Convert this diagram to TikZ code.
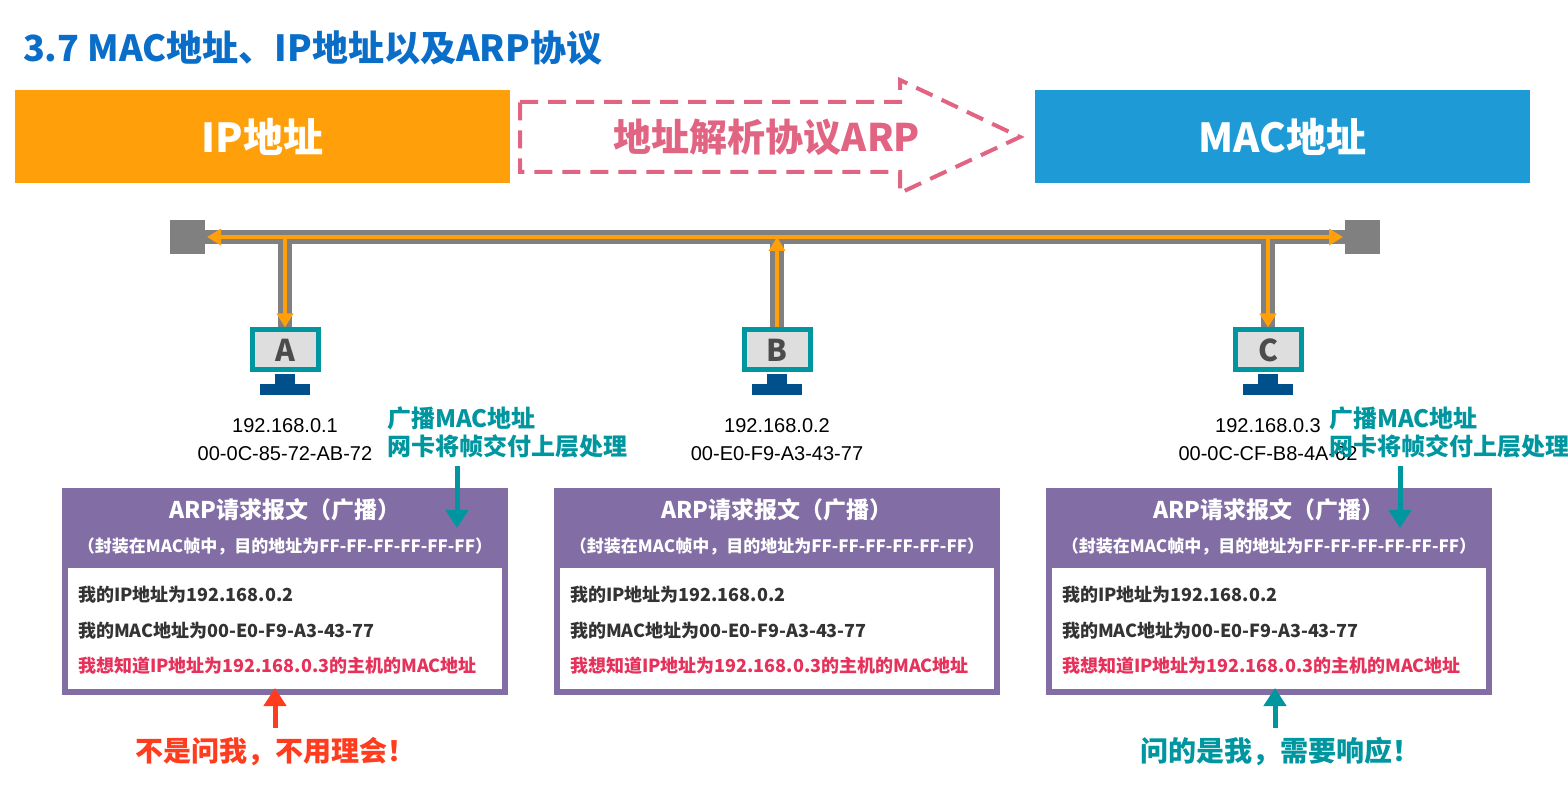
\documentclass[tikz,border=0pt]{standalone}
\usepackage{fontspec}
\setmainfont{Noto Sans CJK SC}
\newfontfamily\ipfont{Liberation Sans}
\usetikzlibrary{arrows.meta,positioning}
\definecolor{titleblue}{RGB}{10,110,200}
\definecolor{iporange}{RGB}{255,160,10}
\definecolor{macblue}{RGB}{30,155,215}
\definecolor{arppink}{RGB}{225,100,130}
\definecolor{busgray}{RGB}{128,128,128}
\definecolor{pcteal}{RGB}{0,150,160}
\definecolor{pcbase}{RGB}{0,80,140}
\definecolor{boxpurple}{RGB}{130,110,165}
\definecolor{askred}{RGB}{230,50,90}
\definecolor{nored}{RGB}{255,60,30}
\tikzset{
  pc/.style={draw=pcteal,line width=2.5pt,fill=black!13,minimum width=33pt,minimum height=20pt,
    font=\bfseries\fontsize{15}{15}\selectfont,text=black!70,inner sep=0pt},
  addr/.style={font=\ipfont\fontsize{10}{12}\selectfont,align=center},
  note/.style={font=\bfseries\fontsize{12}{14}\selectfont,text=pcteal,align=left,anchor=west},
  line/.style={font=\bfseries\fontsize{9}{10}\selectfont,text=black!80,anchor=west},
  flow/.style={iporange,line width=2pt,-{Triangle[length=7pt,width=8pt]}},
  tealarrow/.style={pcteal,line width=2.5pt,-{Triangle[length=9pt,width=11pt]}},
}
\begin{document}
\begin{tikzpicture}[x=0.5pt,y=-0.5pt]
\useasboundingbox (0,0) rectangle (1568,790);
\node[anchor=west,text=titleblue,font=\bfseries\fontsize{18}{18}\selectfont] (title) at (16,48) {3.7 MAC地址、IP地址以及ARP协议};
% header bars
\node[fill=iporange,minimum width=247.5pt,minimum height=46.5pt,text=white,font=\bfseries\fontsize{20}{20}\selectfont] (ip) at (262.5,136.5) {IP地址};
\node[fill=macblue,minimum width=247.5pt,minimum height=46.5pt,text=white,font=\bfseries\fontsize{20}{20}\selectfont] (mac) at (1282.5,136.5) {MAC地址};
\draw[arppink,line width=2pt,dash pattern=on 9pt off 5pt,line join=miter]
  (520,102) -- (900,102) -- (900,80) -- (1020,137) -- (900,193) -- (900,172) -- (520,172) -- cycle;
\node[text=arppink,font=\bfseries\fontsize{19}{19}\selectfont] (arp) at (767,137) {地址解析协议ARP};
% bus
\coordinate (busL) at (188,237);
\coordinate (busR) at (1362,237);
\draw[busgray,line width=7pt] (busL) -- (busR);
\fill[busgray] (170,220) rectangle (205,254);
\fill[busgray] (1345,220) rectangle (1380,254);
% hosts
\foreach \n/\x/\ip/\mac in {A/285/192.168.0.1/00-0C-85-72-AB-72,B/777/192.168.0.2/00-E0-F9-A3-43-77,C/1268/192.168.0.3/00-0C-CF-B8-4A-62}{
  \node[pc] (pc\n) at (\x,350) {\n};
  \fill[pcbase] (\x-10,374) rectangle (\x+10,384);
  \fill[pcbase] (\x-25,384) rectangle (\x+25,395);
  \coordinate (tap\n) at (\x,237);
  \draw[busgray,line width=7pt] (tap\n) -- (pc\n.north);
  \node[addr] (addr\n) at (\x,440) {\ip\\[2pt]\mac};
}
\draw[flow,{Triangle[length=7pt,width=8pt]}-{Triangle[length=7pt,width=8pt]}] (207,237) -- (1343,237);
\draw[flow] (tapA) -- (pcA.north);
\draw[flow] (pcB.north) -- (tapB);
\draw[flow] (tapC) -- (pcC.north);
% ARP request boxes
\foreach \n/\x in {A/285,B/777,C/1269}{
  \fill[boxpurple] (\x-223,488) rectangle (\x+223,695);
  \fill[white] (\x-217,568) rectangle (\x+217,689);
  \node[text=white,font=\bfseries\fontsize{11.5}{12}\selectfont] (head\n) at (\x,510) {ARP请求报文（广播）};
  \node[text=white,font=\bfseries\fontsize{8.5}{9}\selectfont] (sub\n) at (\x,546) {（封装在MAC帧中，目的地址为FF-FF-FF-FF-FF-FF）};
  \node[line] (l1\n) at (\x-214,595) {我的IP地址为192.168.0.2};
  \node[line] (l2\n) at (\x-214,631) {我的MAC地址为00-E0-F9-A3-43-77};
  \node[line,text=askred] (l3\n) at (\x-214,666) {我想知道IP地址为192.168.0.3的主机的MAC地址};
}
% notes
\node[note] (noteA) at (380,432) {广播MAC地址\\网卡将帧交付上层处理};
\node[note] (noteC) at (1322,432) {广播MAC地址\\网卡将帧交付上层处理};
\coordinate (inA) at (457,528);
\coordinate (inC) at (1400,528);
\draw[tealarrow] (457,466) -- (inA);
\draw[tealarrow] (1400,466) -- (inC);
% answers
\node[text=nored,font=\bfseries\fontsize{14}{14}\selectfont] (ansA) at (275,752) {不是问我，不用理会！};
\node[text=pcteal,font=\bfseries\fontsize{14}{14}\selectfont] (ansC) at (1280,752) {问的是我，需要响应！};
\draw[nored,line width=2.5pt,-{Triangle[length=9pt,width=11pt]}] (ansA.north -| 275,0) ++(0,-3) -- (275,688);
\draw[tealarrow] (ansC.north -| 1275,0) ++(0,-3) -- (1275,688);
\end{tikzpicture}
\end{document}
